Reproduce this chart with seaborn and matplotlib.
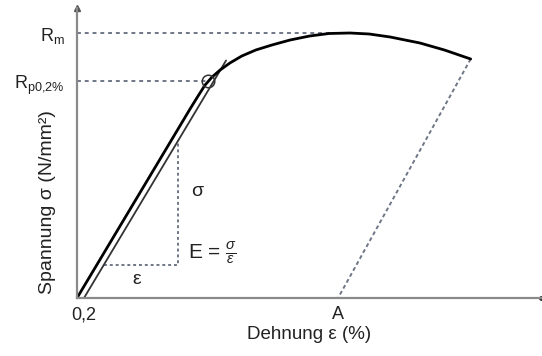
import numpy as np
import pandas as pd
import matplotlib
matplotlib.use("Agg")
import matplotlib.pyplot as plt
import seaborn as sns

# ---- data (strain in %, stress in N/mm^2, arbitrary scale) ----
strain = [0, 3.23, 3.46, 3.66, 3.86, 4.09, 4.37, 4.71, 5.11, 5.57, 6.09, 6.65, 7.2, 7.8, 8.35, 8.95, 9.8, 10.5, 11.25]
stress = [0, 378, 404, 426, 442, 456, 470, 484, 496, 506, 516, 524, 529, 530, 528, 522, 510, 496, 478]
offset_strain = [0.2, 4.26]
offset_stress = [0, 475]
Rp = 434
Rp_strain = 3.74
Rm = 530
Rm_strain = 7.8
A = 7.46
tri_strain = [0.764, 2.90, 2.90]
tri_stress = [66, 66, 316]
xticks = [0.2, A]
xtick_labels = ["0,2", "A"]
yticks = [Rp, Rm]
ytick_labels = [r"$\mathrm{R_{p0{,}2\%}}$", r"$\mathrm{R_{m}}$"]

sns.set_theme(style="white")
plt.rcParams["font.family"] = ["Liberation Sans", "DejaVu Sans"]
plt.rcParams["mathtext.fontset"] = "custom"
plt.rcParams["mathtext.rm"] = "Liberation Sans"
plt.rcParams["mathtext.it"] = "Liberation Sans:italic"

fig = plt.figure(figsize=(5.42, 3.56), dpi=100)
ax = fig.add_axes([77/542, 58/356, 464/542, 290/356])
ax.set_xlim(0, 13.26)
ax.set_ylim(0, 580)

dot = "#6f7686"
df = pd.DataFrame({"strain": strain, "stress": stress})
# reference lines
ax.plot([0, Rm_strain], [Rm, Rm], color=dot, lw=1.4, ls=(0, (2, 2)))
ax.plot([0, Rp_strain], [Rp, Rp], color=dot, lw=1.4, ls=(0, (2, 2)))
ax.plot(tri_strain, tri_stress, color=dot, lw=1.4, ls=(0, (1.5, 1.5)))
ax.plot([strain[-1], A], [stress[-1], 0], color=dot, lw=1.4, ls=(0, (2, 1.5)))
# offset line
sns.lineplot(x=offset_strain, y=offset_stress, ax=ax, color="#333333", lw=1.3, sort=False)
# main curve
sns.lineplot(data=df, x="strain", y="stress", ax=ax, color="black", lw=2.0, sort=False)
ax.plot([Rp_strain], [Rp], marker="o", ms=9, mfc="none", mec="#333333", mew=1.1)

# annotations
ax.text(3.43, 212, "σ", fontsize=14, ha="center", va="center", color="#222222")
ax.text(1.71, 38, "ε", fontsize=14, ha="center", va="center", color="#222222")
ax.text(3.17, 90, r"E = $\frac{\sigma}{\varepsilon}$", fontsize=15, ha="left", va="center", color="#222222")

# axes styling
for s in ["top", "right"]:
    ax.spines[s].set_visible(False)
for s in ["left", "bottom"]:
    ax.spines[s].set_color("#8a8a8a")
    ax.spines[s].set_linewidth(1.6)
ax.plot(0, 1, marker="^", color="#555555", ms=4, transform=ax.transAxes, clip_on=False)
ax.plot(1, 0, marker="o", color="#333333", ms=2.5, transform=ax.transAxes, clip_on=False)

ax.set_xticks(xticks)
ax.set_xticklabels(xtick_labels, fontsize=13, color="#222222")
ax.set_yticks(yticks)
ax.set_yticklabels(ytick_labels, fontsize=13, color="#222222")
ax.tick_params(axis="x", length=0, pad=6)
ax.tick_params(axis="y", length=0, pad=9)
ax.set_xlabel("Dehnung ε (%)", fontsize=13.5, color="#222222", labelpad=2)
ax.set_ylabel("Spannung σ (N/mm²)", fontsize=14, color="#222222", labelpad=4)
ax.yaxis.set_label_coords(-0.045, 0.33)
ax.grid(False)

fig.savefig("out.png", dpi=100)
